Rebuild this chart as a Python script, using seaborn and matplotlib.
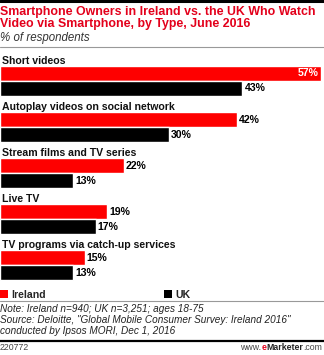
import matplotlib
matplotlib.use("Agg")
import matplotlib.pyplot as plt
from matplotlib.lines import Line2D
from matplotlib.patches import Patch
import seaborn as sns
import pandas as pd

# Data
categories = [
    "Short videos",
    "Autoplay videos on social network",
    "Stream films and TV series",
    "Live TV",
    "TV programs via catch-up services",
]
ireland = [57, 42, 22, 19, 15]
uk = [43, 30, 13, 17, 13]
series = ["Ireland", "UK"]

title = "Smartphone Owners in Ireland vs. the UK Who Watch\nVideo via Smartphone, by Type, June 2016"
subtitle = "% of respondents"
note = ("Note: Ireland n=940; UK n=3,251; ages 18-75\n"
        "Source: Deloitte, \"Global Mobile Consumer Survey: Ireland 2016\"\n"
        "conducted by Ipsos MORI, Dec 1, 2016")
chart_id = "220772"

RED = "#fe0000"
BLACK = "#000000"
TITLE_RED = "#e3001b"

df = pd.DataFrame({
    "category": categories * 2,
    "country": [series[0]] * len(categories) + [series[1]] * len(categories),
    "value": ireland + uk,
})

sns.set_theme(style="white")
plt.rcParams["font.family"] = ["Liberation Sans", "DejaVu Sans"]

W, H = 324, 355
fig = plt.figure(figsize=(W / 100, H / 100), dpi=100)


def fy(px):
    return 1 - px / H


def fx(px):
    return px / W


# bar axes
top_px, bot_px = 51, 281.6
ax = fig.add_axes([0, fy(bot_px), 1, (bot_px - top_px) / H])
sns.barplot(data=df, y="category", x="value", hue="country", orient="h",
            palette=[RED, BLACK], width=0.65, dodge=True, ax=ax,
            saturation=1, legend=False, order=categories)
ax.set_xlim(0, 57.5)
ax.set_ylim(len(categories) - 0.65, -0.65)
ax.axis("off")

# value labels
for cont in ax.containers:
    for bar in cont:
        v = bar.get_width()
        yc = bar.get_y() + bar.get_height() / 2
        if v > 50:
            ax.annotate(f"{v:.0f}%", (v, yc), xytext=(-2, 0), textcoords="offset points",
                        ha="right", va="center", color="white", fontsize=7.6,
                        fontweight="bold")
        else:
            ax.annotate(f"{v:.0f}%", (v, yc), xytext=(1.5, 0), textcoords="offset points",
                        ha="left", va="center", color=BLACK, fontsize=7.6,
                        fontweight="bold")

# category labels above each pair of bars
for i, cat in enumerate(categories):
    ax.text(0.3, i - 0.33, cat, ha="left", va="bottom", fontsize=7.6,
            fontweight="bold", color="#111111")

# header
fig.add_artist(Line2D([0, 1], [fy(1), fy(1)], color="black", lw=2.2))
fig.text(fx(0), fy(6.5), title, ha="left", va="top", fontsize=8.9,
         fontweight="bold", color=TITLE_RED, linespacing=1.0)
fig.text(fx(0), fy(31.5), subtitle, ha="left", va="top", fontsize=8.3,
         style="italic", color="#333333")
fig.add_artist(Line2D([0, 1], [fy(47), fy(47)], color="#999999", lw=0.8))

# legend
handles = [Patch(facecolor=RED, edgecolor="none"), Patch(facecolor=BLACK, edgecolor="none")]
fig.legend(handles, series, ncol=2, loc="center left", mode="expand",
           bbox_to_anchor=(0, fy(301), 190 / W, fy(289) - fy(301)),
           frameon=False, handlelength=0.75, handleheight=0.75, handletextpad=0.3,
           borderpad=0, borderaxespad=0,
           prop={"weight": "bold", "size": 7.6})

# notes
fig.add_artist(Line2D([0, 1], [fy(301), fy(301)], color="#999999", lw=0.8))
fig.text(fx(0), fy(304.5), note, ha="left", va="top", fontsize=7.2,
         style="italic", color="#222222", linespacing=1.12)
fig.add_artist(Line2D([0, 1], [fy(340.5), fy(340.5)], color="black", lw=1.6))

# footer: chart id on the left, site name on the right built from styled pieces
fig.text(fx(0), fy(347), chart_id, ha="left", va="center", fontsize=6.3, color="#444444")
t_com = fig.text(fx(322), fy(347), ".com", ha="right", va="center", fontsize=6.3,
                 color="#444444")
t_brand = plt.annotate("Marketer", xy=(0, 0), xycoords=t_com, ha="right", va="bottom",
                       fontsize=6.3, fontweight="bold", color="#222222",
                       annotation_clip=False)
t_e = plt.annotate("e", xy=(0, 0), xycoords=t_brand, ha="right", va="bottom",
                   fontsize=6.3, fontweight="bold", color=TITLE_RED, annotation_clip=False)
plt.annotate("www.", xy=(0, 0), xycoords=t_e, ha="right", va="bottom",
             fontsize=6.3, color="#444444", annotation_clip=False)

fig.savefig("out.png", dpi=100)
